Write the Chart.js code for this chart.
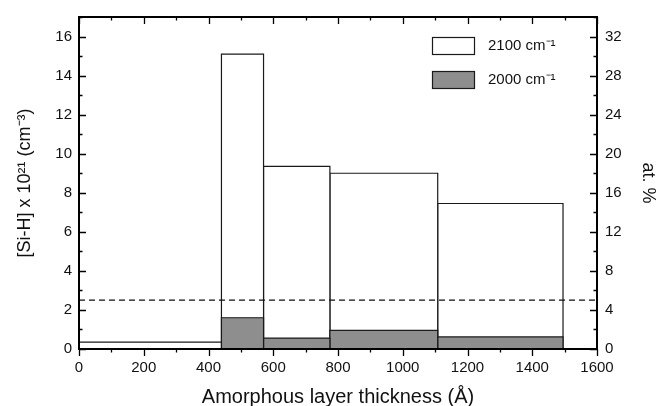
<!DOCTYPE html>
<html><head><meta charset="utf-8">
<script src="https://cdn.jsdelivr.net/npm/chart.js@4/dist/chart.umd.min.js"></script>
<style>html,body{margin:0;padding:0;background:#fff}#wrap{width:659px;height:406px;position:relative}</style>
</head><body><div id="wrap"><canvas id="c"></canvas></div>
<script>
// ---- data ----
const binEdges = [0, 440, 570, 775, 1108, 1495];          // thickness bins (Å)
const h2100 = [0.35, 15.1, 9.35, 9.0, 7.45];              // [Si-H] 2100 cm-1 (x10^21 cm^-3)
const h2000 = [0, 1.6, 0.56, 0.95, 0.62];                 // [Si-H] 2000 cm-1
const dashedLevel = 2.5;
const seriesLabels = ['2100 cm\u207B\u00B9', '2000 cm\u207B\u00B9'];
const xTicks = [0, 200, 400, 600, 800, 1000, 1200, 1400, 1600];
const yTicks = [0, 2, 4, 6, 8, 10, 12, 14, 16];
const y2Ticks = [0, 4, 8, 12, 16, 20, 24, 28, 32];

const FONT = "'Liberation Sans', Arial, sans-serif";
const GRAY = '#8e8e8e';
const EDGE = '#1a1a1a';

function rect(i, h) {
  const x0 = binEdges[i], x1 = binEdges[i + 1];
  return [{x: x0, y: 0}, {x: x0, y: h}, {x: x1, y: h}, {x: x1, y: 0}];
}
const datasets = [];
h2100.forEach((h, i) => datasets.push({
  label: seriesLabels[0], data: rect(i, h), fill: 'origin',
  backgroundColor: '#ffffff', borderColor: EDGE, borderWidth: 1.2,
  pointRadius: 0, tension: 0, order: 2
}));
h2000.forEach((h, i) => { if (h > 0) datasets.push({
  label: seriesLabels[1], data: rect(i, h), fill: 'origin',
  backgroundColor: GRAY, borderColor: EDGE, borderWidth: 1.2,
  pointRadius: 0, tension: 0, order: 1
}); });
datasets.push({
  label: 'level', data: [{x: xTicks[0], y: dashedLevel}, {x: xTicks[xTicks.length - 1], y: dashedLevel}],
  fill: false, borderColor: '#111', borderWidth: 1.2, borderDash: [6, 4],
  pointRadius: 0, order: 0
});

const frameTicks = {
  id: 'frameTicks',
  afterDraw(chart) {
    const {ctx, chartArea: a, scales} = chart;
    ctx.save();
    ctx.strokeStyle = '#000';
    ctx.lineWidth = 1.3;
    ctx.beginPath();
    // x ticks (top inward, bottom outward)
    for (let i = 0; i < xTicks.length; i++) {
      const v = xTicks[i];
      const vals = [v];
      if (i < xTicks.length - 1) vals.push((v + xTicks[i + 1]) / 2);
      vals.forEach((val, k) => {
        const px = Math.round(scales.x.getPixelForValue(val)) + 0.5;
        const len = k === 0 ? 7 : 3.5;
        ctx.moveTo(px, a.top); ctx.lineTo(px, a.top + len);
        ctx.moveTo(px, a.bottom); ctx.lineTo(px, a.bottom + len);
      });
    }
    // left ticks inward
    for (let i = 0; i < yTicks.length; i++) {
      const v = yTicks[i];
      const vals = [v, v + (yTicks[1] - yTicks[0]) / 2];
      vals.forEach((val, k) => {
        if (val > scales.y.max) return;
        const py = Math.round(scales.y.getPixelForValue(val)) + 0.5;
        const len = k === 0 ? 7 : 3.5;
        ctx.moveTo(a.left, py); ctx.lineTo(a.left + len, py);
      });
    }
    // right ticks inward
    for (let i = 0; i < y2Ticks.length; i++) {
      const v = y2Ticks[i];
      const vals = [v, v + (y2Ticks[1] - y2Ticks[0]) / 2];
      vals.forEach((val, k) => {
        if (val > scales.y2.max) return;
        const py = Math.round(scales.y2.getPixelForValue(val)) + 0.5;
        const len = k === 0 ? 7 : 3.5;
        ctx.moveTo(a.right, py); ctx.lineTo(a.right - len, py);
      });
    }
    ctx.stroke();
    // frame
    ctx.lineWidth = 2;
    ctx.strokeRect(a.left, a.top, a.right - a.left, a.bottom - a.top);

    // legend
    const items = [{fill: '#ffffff'}, {fill: GRAY}];
    ctx.font = '15px ' + FONT;
    ctx.textBaseline = 'middle';
    ctx.textAlign = 'left';
    items.forEach((it, i) => {
      const bx = 432, by = 37 + i * 34;
      ctx.fillStyle = it.fill;
      ctx.fillRect(bx, by, 42, 17);
      ctx.lineWidth = 1.2;
      ctx.strokeStyle = EDGE;
      ctx.strokeRect(bx + 0.5, by + 0.5, 42, 17);
      ctx.fillStyle = '#111';
      ctx.fillText(seriesLabels[i], 488, by + 9);
    });
    ctx.restore();
  }
};

new Chart(document.getElementById('c'), {
  type: 'line',
  data: {datasets},
  options: {
    responsive: true, maintainAspectRatio: false, animation: false, devicePixelRatio: 1,
    layout: {padding: {top: 12, left: 0, right: 0, bottom: 0}},
    plugins: {legend: {display: false}, tooltip: {enabled: false}},
    scales: {
      x: {
        type: 'linear', position: 'bottom', min: 0, max: 1600,
        afterBuildTicks: s => { s.ticks = xTicks.map(v => ({value: v})); },
        afterFit: s => { s.height = 57; },
        grid: {display: false, drawTicks: false},
        border: {display: false},
        ticks: {padding: 10, color: '#111', font: {family: FONT, size: 15}, maxRotation: 0, autoSkip: false,
                callback: v => String(v)},
        title: {display: true, text: 'Amorphous layer thickness (Å)', color: '#111',
                font: {family: FONT, size: 20, lineHeight: 1}, padding: {top: 0, bottom: -1}}
      },
      y: {
        type: 'linear', position: 'left', min: 0, max: 17,
        afterBuildTicks: s => { s.ticks = yTicks.map(v => ({value: v})); },
        afterFit: s => { s.width = 79; },
        grid: {display: false, drawTicks: false},
        border: {display: false},
        ticks: {padding: 7, color: '#111', font: {family: FONT, size: 15}, callback: v => String(v)},
        title: {display: true, text: '[Si-H] x 10\u00B2\u00B9 (cm\u207B\u00B3)', color: '#111',
                font: {family: FONT, size: 18, lineHeight: 1.2}, padding: {top: 14, bottom: 0}}
      },
      y2: {
        type: 'linear', position: 'right', min: 0, max: 34,
        afterBuildTicks: s => { s.ticks = y2Ticks.map(v => ({value: v})); },
        afterFit: s => { s.width = 62; },
        grid: {display: false, drawTicks: false},
        border: {display: false},
        ticks: {padding: 8, color: '#111', font: {family: FONT, size: 15}, callback: v => String(v)},
        title: {display: true, text: 'at. %', color: '#111',
                font: {family: FONT, size: 18, lineHeight: 1.2}, padding: {top: 0, bottom: 0}}
      }
    }
  },
  plugins: [frameTicks]
});
</script>
</body></html>
